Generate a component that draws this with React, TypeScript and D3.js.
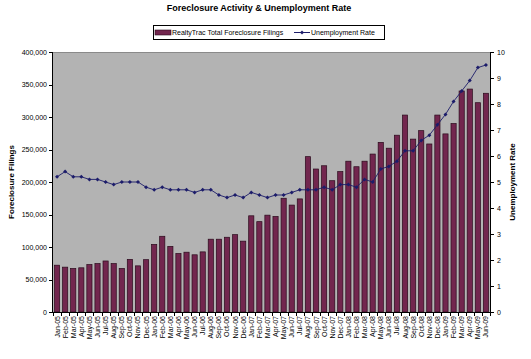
import React from "react";
import * as d3 from "d3";

const months: string[] = [
  "Jan-05","Feb-05","Mar-05","Apr-05","May-05","Jun-05","Jul-05","Aug-05","Sep-05","Oct-05","Nov-05","Dec-05",
  "Jan-06","Feb-06","Mar-06","Apr-06","May-06","Jun-06","Jul-06","Aug-06","Sep-06","Oct-06","Nov-06","Dec-06",
  "Jan-07","Feb-07","Mar-07","Apr-07","May-07","Jun-07","Jul-07","Aug-07","Sep-07","Oct-07","Nov-07","Dec-07",
  "Jan-08","Feb-08","Mar-08","Apr-08","May-08","Jun-08","Jul-08","Aug-08","Sep-08","Oct-08","Nov-08","Dec-08",
  "Jan-09","Feb-09","Mar-09","Apr-09","May-09","Jun-09",
];

const filings: number[] = [
  72000, 69000, 67000, 68000, 73000, 74500, 78500, 74500, 67000, 81000, 71000, 80500,
  104000, 116500, 101000, 90000, 92000, 88000, 92500, 112000, 112000, 115000, 119000, 109000,
  148000, 139000, 149000, 147000, 175000, 164500, 174000, 239000, 220000, 225000, 202000, 216000,
  232000, 223500, 232000, 243000, 261000, 252000, 272000, 303000, 266000, 279000, 258500, 303000,
  274000, 290000, 340000, 343000, 322000, 336500,
];

const unemployment: number[] = [
  5.2, 5.4, 5.2, 5.2, 5.1, 5.1, 5.0, 4.9, 5.0, 5.0, 5.0, 4.8,
  4.7, 4.8, 4.7, 4.7, 4.7, 4.6, 4.7, 4.7, 4.5, 4.4, 4.5, 4.4,
  4.6, 4.5, 4.4, 4.5, 4.5, 4.6, 4.7, 4.7, 4.7, 4.8, 4.7, 4.9,
  4.9, 4.8, 5.1, 5.0, 5.5, 5.6, 5.8, 6.2, 6.2, 6.6, 6.8, 7.2,
  7.6, 8.1, 8.5, 8.9, 9.4, 9.5,
];

const leftTicks: number[] = [0, 50000, 100000, 150000, 200000, 250000, 300000, 350000, 400000];
const rightTicks: number[] = [0, 1, 2, 3, 4, 5, 6, 7, 8, 9, 10];

const title = "Foreclosure Activity & Unemployment Rate";
const barSeriesName = "RealtyTrac Total Foreclosure Filings";
const lineSeriesName = "Unemployment Rate";
const leftTitle = "Foreclosure Filings";
const rightTitle = "Unemployment Rate";

const W = 531, H = 359;
const M = { left: 53, right: 490, top: 52, bottom: 312 };
const FONT = "'Liberation Sans', Arial, sans-serif";
const BAR = "#72264E";
const BAR_STROKE = "#2a0a1c";
const LINE = "#1c1c6a";

export default function App() {
  const x = d3.scaleBand<string>().domain(months).range([M.left, M.right]).paddingInner(0.36).paddingOuter(0.18);
  const yL = d3.scaleLinear().domain([0, 400000]).range([M.bottom, M.top]);
  const yR = d3.scaleLinear().domain([0, 10]).range([M.bottom, M.top]);
  const fmt = d3.format(",");
  const cx = (m: string) => (x(m) as number) + x.bandwidth() / 2;
  const line = d3.line<number>().x((_, i) => cx(months[i])).y((d) => yR(d));
  const boundaries = d3.range(months.length + 1).map((i) => M.left + (M.right - M.left) * i / months.length);

  return (
    <svg width={W} height={H} style={{ position: "absolute", left: 0, top: 0, background: "#fff" }} fontFamily={FONT}>
      <rect x={0} y={0} width={W} height={H} fill="#fff" />
      <text x={259} y={11} textAnchor="middle" fontSize={9} fontWeight="bold" fill="#000">{title}</text>

      {/* legend */}
      <rect x={153.5} y={25.5} width={231} height={14} fill="#fff" stroke="#000" strokeWidth={1} />
      <rect x={155} y={30} width={16} height={5} fill={BAR} stroke={BAR_STROKE} strokeWidth={0.6} />
      <text x={172} y={35} fontSize={7} fill="#000">{barSeriesName}</text>
      <line x1={294} x2={310} y1={32.5} y2={32.5} stroke={LINE} strokeWidth={1} />
      <path d={`M302,30.5 L304,32.5 L302,34.5 L300,32.5 Z`} fill={LINE} />
      <text x={311} y={35} fontSize={7} fill="#000">{lineSeriesName}</text>

      {/* plot area */}
      <rect x={M.left} y={M.top} width={M.right - M.left} height={M.bottom - M.top} fill="#b3b3b3" />
      <line x1={M.left} x2={M.right} y1={M.top + 0.5} y2={M.top + 0.5} stroke="#8a8a8a" strokeWidth={1} />

      {/* bars */}
      {filings.map((v, i) => (
        <rect key={i} x={x(months[i])} y={yL(v)} width={x.bandwidth()} height={M.bottom - yL(v)}
          fill={BAR} stroke={BAR_STROKE} strokeWidth={0.7} />
      ))}

      {/* line */}
      <path d={line(unemployment) || ""} fill="none" stroke={LINE} strokeWidth={0.9} />
      {unemployment.map((v, i) => {
        const px = cx(months[i]), py = yR(v);
        return <path key={i} d={`M${px},${py - 2} L${px + 2},${py} L${px},${py + 2} L${px - 2},${py} Z`} fill={LINE} />;
      })}

      {/* axes */}
      <line x1={M.left - 0.5} x2={M.left - 0.5} y1={M.top} y2={M.bottom} stroke="#000" />
      <line x1={M.right + 0.5} x2={M.right + 0.5} y1={M.top} y2={M.bottom} stroke="#000" />
      <line x1={M.left} x2={M.right} y1={M.bottom + 0.5} y2={M.bottom + 0.5} stroke="#000" />

      {leftTicks.map((t) => (
        <g key={"l" + t}>
          <line x1={M.left - 4} x2={M.left} y1={Math.round(yL(t)) + 0.5} y2={Math.round(yL(t)) + 0.5} stroke="#000" />
          <text x={M.left - 6} y={yL(t) + 2.5} textAnchor="end" fontSize={7} fill="#000">{fmt(t)}</text>
        </g>
      ))}
      {rightTicks.map((t) => (
        <g key={"r" + t}>
          <line x1={M.right} x2={M.right + 4} y1={Math.round(yR(t)) + 0.5} y2={Math.round(yR(t)) + 0.5} stroke="#000" />
          <text x={M.right + 7} y={yR(t) + 2.5} textAnchor="start" fontSize={7} fill="#000">{t}</text>
        </g>
      ))}
      {boundaries.map((b, i) => (
        <line key={"b" + i} x1={Math.round(b) + 0.5} x2={Math.round(b) + 0.5} y1={M.bottom} y2={M.bottom + 4} stroke="#000" />
      ))}
      {months.map((m) => (
        <text key={m} transform={`translate(${cx(m) + 2.5},${M.bottom + 4}) rotate(-90)`} textAnchor="end" fontSize={7} fill="#000">{m}</text>
      ))}

      <text transform={`translate(14,${(M.top + M.bottom) / 2}) rotate(-90)`} textAnchor="middle" fontSize={8} fontWeight="bold" fill="#000">{leftTitle}</text>
      <text transform={`translate(515,${(M.top + M.bottom) / 2}) rotate(-90)`} textAnchor="middle" fontSize={8} fontWeight="bold" fill="#000">{rightTitle}</text>
    </svg>
  );
}
